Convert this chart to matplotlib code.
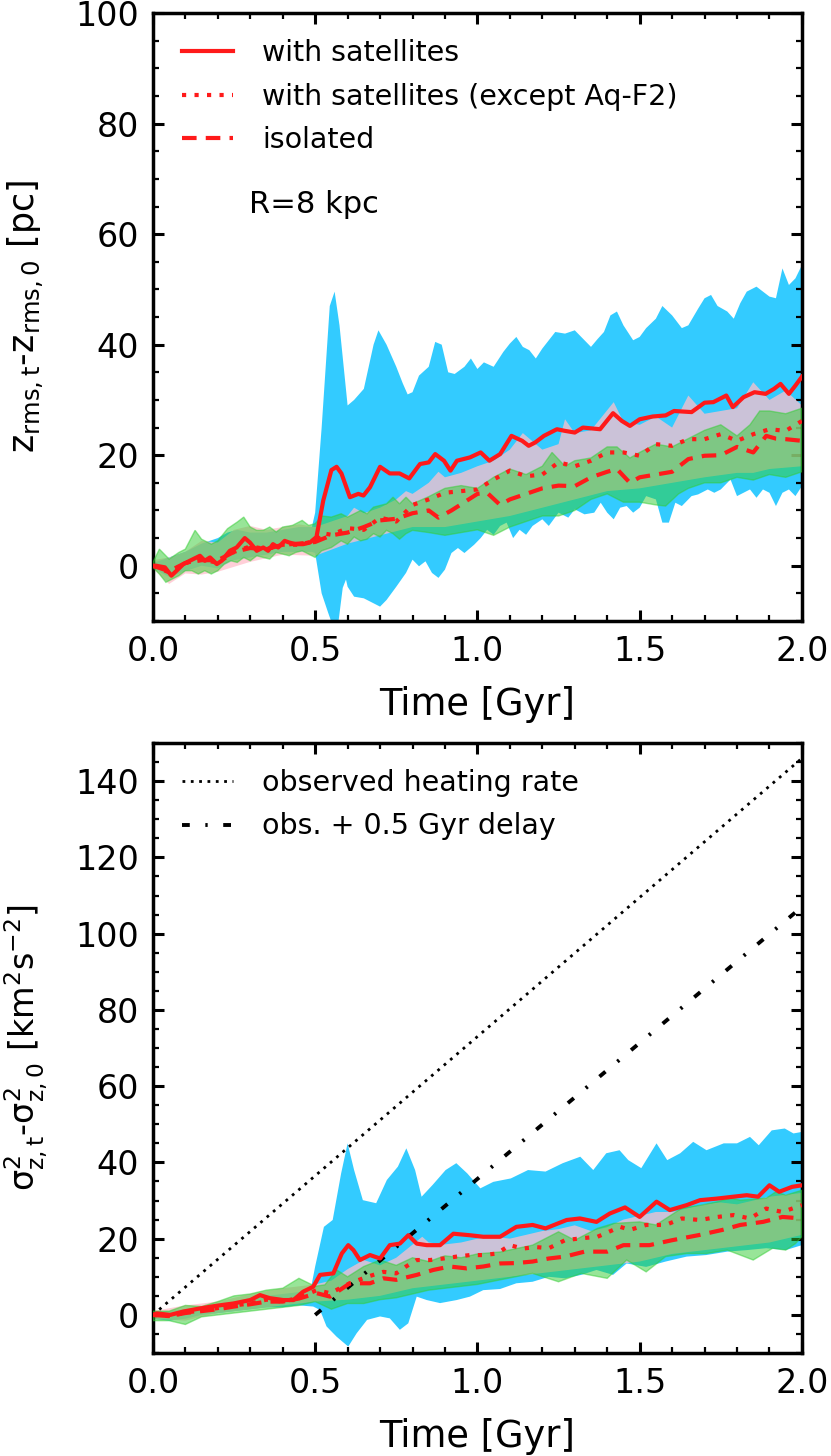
import numpy as np
import matplotlib
matplotlib.use("Agg")
import matplotlib.pyplot as plt
from matplotlib.ticker import MultipleLocator

# ---------------- TOP PANEL DATA (z_rms change, pc) ----------------
top_sat_t = [0, 0.01, 0.037, 0.057, 0.073, 0.094, 0.114, 0.145, 0.16, 0.176, 0.197, 0.212, 0.237, 0.258, 0.283,
             0.299, 0.32, 0.34, 0.355, 0.37, 0.386, 0.406, 0.42, 0.44, 0.463, 0.484, 0.504, 0.525, 0.55, 0.566,
             0.581, 0.607, 0.633, 0.649, 0.669, 0.70, 0.73, 0.76, 0.79, 0.823, 0.85, 0.87, 0.897, 0.917, 0.937,
             0.977, 1.01, 1.037, 1.07, 1.105, 1.138, 1.158, 1.178, 1.205, 1.245, 1.27, 1.3, 1.325, 1.378, 1.418,
             1.445, 1.47, 1.5, 1.54, 1.58, 1.606, 1.66, 1.7, 1.727, 1.767, 1.787, 1.82, 1.854, 1.888, 1.914,
             1.934, 1.96, 1.98, 2.0]
top_sat_v = [0, 0, -0.3, -1.8, -0.9, 0.3, 0.9, 1.8, 0.9, 1.5, 0.3, 0.9, 2.7, 3.3, 5.0,
             4.2, 2.7, 3.3, 2.7, 3.9, 3.3, 4.5, 4.2, 3.9, 3.9, 4.2, 5.2, 11.8, 17.3, 17.9,
             16.7, 12.4, 13.0, 12.7, 14.2, 17.9, 16.7, 16.7, 15.8, 18.4, 18.7, 20.2, 19.0, 17.2, 19.0,
             19.6, 20.5, 19.0, 20.2, 23.5, 22.6, 21.7, 22.3, 23.5, 24.7, 24.4, 24.1, 25.0, 24.7, 27.6,
             26.2, 25.3, 26.5, 27.0, 27.2, 28.0, 27.8, 29.5, 29.6, 30.8, 28.7, 30.5, 31.4, 31.1, 32.0,
             32.9, 31.1, 32.6, 34.2]

top_exc_t = [0, 0.05, 0.1, 0.15, 0.2, 0.25, 0.3, 0.35, 0.4, 0.45, 0.5, 0.52, 0.55, 0.6, 0.65, 0.7, 0.75,
             0.8, 0.85, 0.9, 0.95, 1.0, 1.05, 1.1, 1.15, 1.2, 1.25, 1.3, 1.35, 1.4, 1.45, 1.5, 1.55, 1.6,
             1.65, 1.7, 1.75, 1.8, 1.85, 1.9, 1.95, 2.0]
top_exc_v = [0, -1.2, 0.5, 1.2, 0.5, 2.5, 3.5, 3.0, 3.8, 3.8, 4.5, 5.9, 5.6, 6.8, 6.5, 8.7, 8.0,
             11.0, 12.0, 13.2, 13.5, 13.8, 15.6, 17.2, 16.2, 16.5, 18.7, 18.0, 19.0, 20.5, 20.5, 19.9, 22.0, 21.7,
             22.9, 22.9, 23.8, 22.6, 23.8, 24.7, 24.4, 26.2]

top_iso_t = [0, 0.05, 0.1, 0.15, 0.2, 0.25, 0.3, 0.35, 0.4, 0.45, 0.5, 0.55, 0.6, 0.65, 0.7, 0.75, 0.8,
             0.85, 0.88, 0.92, 0.96, 1.0, 1.03, 1.07, 1.1, 1.15, 1.2, 1.25, 1.3, 1.35, 1.4, 1.43, 1.47, 1.5,
             1.55, 1.6, 1.65, 1.7, 1.75, 1.8, 1.85, 1.89, 1.92, 1.95, 2.0]
top_iso_v = [0, -1.0, 0.5, 1.0, 1.0, 2.5, 3.2, 3.0, 3.8, 4.0, 4.3, 5.5, 6.0, 7.0, 8.2, 8.5, 9.5,
             10.0, 8.7, 10.0, 11.5, 13.0, 13.2, 11.0, 12.0, 13.0, 14.0, 14.5, 14.4, 16.0, 17.0, 17.5, 15.0, 16.0,
             16.5, 17.0, 19.3, 19.9, 20.0, 21.5, 20.5, 23.5, 23.0, 22.9, 22.6]

top_sat_hi_t = [0, 0.05, 0.1, 0.15, 0.2, 0.23, 0.26, 0.3, 0.35, 0.4, 0.45, 0.49, 0.5, 0.52, 0.545, 0.56,
                0.575, 0.6, 0.62, 0.65, 0.68, 0.695, 0.72, 0.75, 0.77, 0.785, 0.8, 0.82, 0.85, 0.87, 0.89,
                0.91, 0.93, 0.96, 0.98, 1.0, 1.02, 1.05, 1.08, 1.1, 1.12, 1.14, 1.16, 1.18, 1.2, 1.24, 1.27,
                1.3, 1.32, 1.35, 1.37, 1.39, 1.41, 1.43, 1.45, 1.48, 1.5, 1.52, 1.55, 1.57, 1.6, 1.63, 1.65,
                1.68, 1.7, 1.72, 1.74, 1.77, 1.79, 1.81, 1.83, 1.86, 1.88, 1.9, 1.92, 1.94, 1.96, 1.98, 2.0]
top_sat_hi_v = [0.5, 1.5, 2.5, 4.0, 5.0, 6.0, 6.5, 6.0, 6.0, 6.5, 7.0, 7.0, 9.6, 25.0, 47.0, 49.6,
                43.5, 29.0, 30.0, 32.0, 40.0, 42.6, 40.0, 36.0, 33.0, 31.0, 31.4, 34.4, 36.0, 40.5, 40.0,
                35.0, 34.7, 36.0, 37.5, 35.6, 36.8, 36.0, 38.7, 40.2, 41.4, 39.6, 39.0, 37.5, 39.3, 42.3, 42.0,
                42.6, 41.4, 39.6, 41.0, 42.3, 45.3, 46.0, 43.5, 40.8, 41.4, 43.0, 44.7, 47.0, 45.3, 43.0, 43.5,
                46.5, 48.4, 49.0, 47.0, 46.0, 44.7, 47.5, 49.6, 50.5, 49.6, 48.7, 48.4, 53.8, 50.8, 52.0, 54.4]
top_sat_lo_t = [0, 0.05, 0.1, 0.15, 0.2, 0.25, 0.3, 0.35, 0.4, 0.45, 0.49, 0.5, 0.52, 0.54, 0.555, 0.57,
                0.585, 0.595, 0.6, 0.62, 0.65, 0.68, 0.7, 0.72, 0.75, 0.78, 0.8, 0.82, 0.84, 0.86, 0.88, 0.9,
                0.92, 0.94, 0.96, 0.99, 1.01, 1.03, 1.05, 1.07, 1.09, 1.11, 1.13, 1.15, 1.17, 1.2, 1.22, 1.25,
                1.28, 1.3, 1.33, 1.36, 1.38, 1.4, 1.42, 1.44, 1.46, 1.48, 1.5, 1.52, 1.55, 1.57, 1.59, 1.61,
                1.63, 1.66, 1.68, 1.71, 1.73, 1.75, 1.78, 1.8, 1.82, 1.84, 1.86, 1.88, 1.9, 1.92, 1.94, 1.96,
                1.98, 2.0]
top_sat_lo_v = [-0.5, -2.0, -1.0, 0.0, -0.5, 1.0, 1.5, 2.0, 2.5, 2.5, 2.5, 2.3, -5.0, -8.5, -11.0, -11.0,
                -4.0, -2.5, -3.8, -5.6, -5.9, -6.8, -7.4, -6.2, -3.8, -1.3, 1.1, -0.1, 0.8, -1.3, -2.2, -0.7,
                2.3, 3.2, 2.3, 3.8, 5.0, 6.5, 5.6, 7.2, 7.8, 5.0, 6.5, 5.6, 7.2, 8.4, 7.2, 9.6,
                8.7, 10.2, 9.3, 9.6, 11.4, 9.6, 8.4, 10.5, 10.8, 9.6, 10.5, 12.6, 12.0, 7.8, 7.8, 11.4,
                10.8, 12.6, 12.9, 13.8, 13.2, 13.8, 15.6, 12.6, 13.2, 13.8, 12.3, 13.8, 13.2, 10.8, 13.2, 13.8,
                12.6, 14.4]

top_exc_hi_t = [0, 0.05, 0.1, 0.15, 0.2, 0.25, 0.3, 0.35, 0.4, 0.45, 0.5, 0.55, 0.6, 0.62, 0.65, 0.7, 0.75,
                0.78, 0.8, 0.85, 0.88, 0.9, 0.95, 1.0, 1.05, 1.1, 1.14, 1.2, 1.25, 1.27, 1.3, 1.35, 1.42,
                1.45, 1.5, 1.55, 1.6, 1.65, 1.7, 1.75, 1.8, 1.85, 1.9, 1.95, 2.0]
top_exc_hi_v = [1.0, 1.5, 2.5, 4.5, 4.2, 6.5, 7.2, 6.5, 7.0, 7.5, 7.0, 8.0, 9.0, 10.5, 9.5, 10.5, 12.0,
                13.5, 13.0, 15.0, 17.0, 16.0, 16.8, 18.0, 19.0, 21.0, 24.0, 21.0, 22.0, 26.5, 24.0, 24.5, 29.6,
                26.0, 25.5, 27.0, 25.0, 30.8, 27.5, 28.0, 28.5, 33.2, 30.0, 31.7, 29.0]
top_exc_lo_t = [0, 0.05, 0.1, 0.15, 0.2, 0.3, 0.4, 0.5, 0.6, 0.7, 0.8, 0.9, 1.0, 1.1, 1.2, 1.3, 1.4, 1.5,
                1.6, 1.7, 1.8, 1.85, 1.9, 2.0]
top_exc_lo_v = [-0.5, -3.3, -1.4, -1.6, -1.1, 0.7, 2.0, 1.8, 4.0, 5.5, 7.0, 7.0, 8.0, 9.0, 10.5, 12.0, 13.5,
                14.0, 15.0, 16.0, 16.8, 16.8, 17.5, 18.0]

top_iso_hi_t = [0, 0.02, 0.05, 0.08, 0.1, 0.13, 0.15, 0.18, 0.2, 0.23, 0.26, 0.28, 0.3, 0.32, 0.34, 0.36,
                0.38, 0.4, 0.43, 0.46, 0.48, 0.5, 0.52, 0.55, 0.58, 0.6, 0.62, 0.64, 0.66, 0.68, 0.7, 0.72,
                0.74, 0.76, 0.78, 0.8, 0.85, 0.9, 0.95, 1.0, 1.05, 1.1, 1.15, 1.2, 1.23, 1.27, 1.3, 1.35, 1.4,
                1.43, 1.47, 1.5, 1.55, 1.6, 1.65, 1.7, 1.75, 1.8, 1.84, 1.87, 1.9, 1.95, 2.0]
top_iso_hi_v = [0.6, 3.0, 1.2, 2.4, 3.0, 6.4, 4.8, 3.9, 4.5, 6.7, 7.9, 8.8, 7.0, 6.4, 6.4, 7.0,
                6.1, 7.0, 7.3, 8.2, 7.3, 7.6, 9.0, 8.8, 9.4, 8.8, 9.4, 10.0, 9.4, 10.6, 10.9, 11.2,
                12.4, 11.2, 12.4, 11.2, 12.5, 14.0, 14.5, 14.0, 16.0, 17.5, 16.5, 18.0, 20.5, 18.0, 19.0, 19.5, 21.5,
                21.5, 19.5, 20.5, 22.0, 21.5, 23.0, 24.5, 25.5, 23.5, 25.5, 28.0, 28.0, 27.5, 28.5]
top_iso_lo_t = [0, 0.02, 0.04, 0.06, 0.08, 0.1, 0.12, 0.14, 0.16, 0.18, 0.2, 0.22, 0.24, 0.26, 0.28, 0.3,
                0.32, 0.34, 0.36, 0.38, 0.4, 0.42, 0.44, 0.46, 0.48, 0.5, 0.52, 0.55, 0.58, 0.6, 0.62, 0.64,
                0.66, 0.68, 0.7, 0.72, 0.74, 0.76, 0.78, 0.8, 0.85, 0.9, 0.95, 1.0, 1.05, 1.1, 1.15, 1.2, 1.25,
                1.3, 1.35, 1.4, 1.45, 1.5, 1.55, 1.58, 1.62, 1.65, 1.7, 1.75, 1.8, 1.85, 1.9, 1.95, 2.0]
top_iso_lo_v = [-0.3, -1.5, -3.0, -2.4, -1.8, -0.9, -0.9, -1.5, -0.9, -1.5, -0.9, 0.3, 0.9, 0.6, 1.5, 0.9,
                1.8, 1.5, 1.2, 2.4, 2.1, 1.8, 2.4, 2.7, 2.1, 1.5, 2.7, 3.3, 4.5, 3.9, 5.2, 4.5,
                4.8, 5.8, 5.2, 6.4, 5.8, 4.8, 5.8, 6.4, 6.0, 5.5, 6.0, 6.5, 5.5, 7.0, 8.0, 9.0, 9.0,
                10.0, 12.0, 13.0, 11.5, 11.5, 11.0, 10.8, 13.0, 14.0, 15.0, 15.0, 16.0, 15.5, 16.5, 16.0, 17.0]

# ---------------- BOTTOM PANEL DATA (sigma_z^2 change, km^2 s^-2) ----------------
bot_sat_t = [0, 0.012, 0.053, 0.094, 0.145, 0.196, 0.248, 0.3, 0.33, 0.36, 0.402, 0.433, 0.463, 0.494,
             0.515, 0.556, 0.582, 0.602, 0.618, 0.638, 0.669, 0.70, 0.73, 0.761, 0.787, 0.813, 0.844, 0.885,
             0.926, 0.977, 1.018, 1.07, 1.12, 1.17, 1.21, 1.275, 1.316, 1.367, 1.408, 1.455, 1.5, 1.552,
             1.593, 1.645, 1.686, 1.737, 1.788, 1.83, 1.865, 1.9, 1.93, 1.97, 2.0]
bot_sat_v = [0, 0.4, 0.0, 0.9, 1.7, 2.4, 3.0, 3.9, 5.2, 4.4, 3.9, 3.9, 6.1, 7.4,
             10.5, 10.9, 16.1, 18.3, 17.0, 14.4, 15.7, 14.8, 18.3, 18.7, 20.9, 18.7, 18.3, 18.3,
             21.3, 20.9, 20.5, 20.5, 23.1, 23.6, 22.7, 24.9, 25.3, 24.4, 26.6, 28.2, 25.7, 29.7,
             27.5, 28.8, 30.1, 30.5, 31.0, 31.4, 31.0, 34.0, 32.3, 33.6, 34.0]

bot_exc_t = [0, 0.05, 0.1, 0.15, 0.2, 0.25, 0.3, 0.35, 0.4, 0.45, 0.505, 0.546, 0.607, 0.66, 0.71, 0.75,
             0.78, 0.813, 0.854, 0.895, 0.936, 0.977, 1.018, 1.06, 1.1, 1.14, 1.18, 1.22, 1.27, 1.32, 1.37,
             1.44, 1.47, 1.52, 1.58, 1.63, 1.686, 1.74, 1.79, 1.84, 1.89, 1.94, 2.0]
bot_exc_v = [0, -0.3, 0.6, 1.2, 1.8, 2.5, 3.0, 4.0, 3.5, 4.5, 6.5, 5.7, 8.3, 10.0, 11.3, 10.9,
             12.7, 14.4, 14.4, 14.8, 15.3, 15.7, 15.7, 16.1, 18.3, 17.4, 17.8, 17.5, 19.6, 20.1, 20.5,
             23.1, 22.3, 23.6, 23.6, 25.3, 24.9, 25.7, 26.2, 25.3, 27.9, 27.0, 28.8]

bot_iso_t = [0, 0.05, 0.1, 0.15, 0.2, 0.25, 0.3, 0.35, 0.4, 0.45, 0.505, 0.546, 0.607, 0.669, 0.71, 0.75,
             0.813, 0.864, 0.915, 0.967, 1.018, 1.07, 1.12, 1.17, 1.22, 1.27, 1.33, 1.4, 1.45, 1.53, 1.6,
             1.686, 1.755, 1.81, 1.88, 1.94, 2.0]
bot_iso_v = [0, -0.3, 0.5, 1.0, 1.5, 2.2, 2.8, 3.5, 3.5, 4.3, 5.7, 4.8, 8.3, 8.3, 9.6, 9.2,
             10.5, 11.8, 12.7, 12.2, 12.7, 13.5, 13.6, 14.0, 14.8, 15.3, 16.6, 16.6, 18.3, 18.3, 19.6,
             21.0, 22.3, 23.6, 24.4, 25.7, 25.3]

bot_sat_hi_t = [0, 0.05, 0.1, 0.15, 0.2, 0.25, 0.3, 0.35, 0.4, 0.45, 0.487, 0.5, 0.527, 0.554, 0.58, 0.6,
                0.62, 0.647, 0.688, 0.721, 0.755, 0.781, 0.808, 0.828, 0.862, 0.902, 0.935, 0.969, 1.009,
                1.049, 1.103, 1.156, 1.21, 1.263, 1.317, 1.357, 1.397, 1.438, 1.465, 1.505, 1.552, 1.585,
                1.625, 1.665, 1.706, 1.759, 1.8, 1.84, 1.867, 1.907, 1.947, 1.974, 2.0]
bot_sat_hi_v = [1.0, 1.0, 1.5, 2.0, 3.0, 3.5, 4.5, 5.0, 5.5, 6.0, 7.0, 12.7, 23.1, 24.9, 37.1, 45.0,
                38.0, 30.1, 29.3, 35.4, 38.9, 43.7, 38.0, 31.0, 34.1, 38.0, 39.8, 37.1, 33.2,
                34.9, 35.8, 38.0, 37.6, 39.8, 41.5, 38.0, 42.4, 43.2, 40.6, 38.5, 45.0, 40.6,
                42.4, 45.4, 43.2, 45.0, 45.0, 46.7, 44.5, 48.4, 48.9, 47.6, 48.0]
bot_sat_lo_t = [0, 0.05, 0.1, 0.15, 0.2, 0.25, 0.3, 0.35, 0.4, 0.45, 0.494, 0.515, 0.535, 0.566, 0.602,
                0.628, 0.66, 0.7, 0.73, 0.761, 0.787, 0.813, 0.844, 0.885, 0.936, 0.977, 1.018, 1.07, 1.12,
                1.17, 1.22, 1.27, 1.32, 1.367, 1.418, 1.46, 1.52, 1.58, 1.645, 1.705, 1.77, 1.83, 1.89, 1.95,
                2.0]
bot_sat_lo_v = [-1.0, -1.5, -1.0, 0.0, 0.5, 1.0, 1.5, 2.0, 2.0, 2.5, 2.2, 1.3, -3.0, -5.7, -8.3,
                -4.8, -1.3, -0.4, -0.9, -3.9, -2.2, 4.8, 3.9, 3.1, 3.9, 4.8, 6.5, 6.8, 8.3,
                8.7, 10.0, 9.6, 10.5, 11.8, 10.5, 13.5, 12.6, 14.0, 15.3, 15.7, 16.6, 17.0, 17.5, 17.0,
                18.3]

bot_exc_hi_t = [0, 0.1, 0.2, 0.3, 0.4, 0.5, 0.55, 0.6, 0.65, 0.7, 0.75, 0.83, 0.85, 0.9, 0.95, 1.0, 1.05,
                1.1, 1.15, 1.2, 1.25, 1.3, 1.35, 1.4, 1.45, 1.5, 1.55, 1.6, 1.65, 1.7, 1.75, 1.8, 1.85, 1.9,
                1.95, 2.0]
bot_exc_hi_v = [1.0, 2.5, 3.5, 5.5, 7.0, 8.0, 9.0, 12.0, 14.4, 13.0, 15.0, 20.5, 19.0, 18.5, 19.0, 20.0, 20.5,
                20.0, 21.0, 22.0, 22.5, 23.5, 22.0, 23.0, 25.0, 26.0, 27.0, 27.0, 28.0, 29.0, 29.5, 29.0, 30.0, 31.0,
                31.5, 32.0]
bot_exc_lo_t = [0, 0.1, 0.2, 0.3, 0.4, 0.5, 0.6, 0.7, 0.8, 0.9, 1.0, 1.1, 1.2, 1.3, 1.4, 1.5, 1.6, 1.7,
                1.8, 1.9, 2.0]
bot_exc_lo_v = [-1.0, -1.5, 0.5, 1.5, 2.5, 3.5, 4.0, 5.0, 7.0, 8.0, 9.0, 10.0, 11.0, 12.0, 13.0, 14.0, 16.0,
                17.0, 18.0, 19.0, 21.0]

bot_iso_hi_t = [0, 0.05, 0.1, 0.15, 0.2, 0.25, 0.3, 0.35, 0.4, 0.45, 0.5, 0.53, 0.566, 0.6, 0.65, 0.7,
                0.75, 0.8, 0.85, 0.9, 0.95, 1.0, 1.07, 1.12, 1.17, 1.25, 1.3, 1.37, 1.42, 1.5, 1.55, 1.63,
                1.69, 1.74, 1.78, 1.81, 1.89, 1.92, 1.95, 2.0]
bot_iso_hi_v = [1.0, 1.0, 2.5, 2.2, 3.5, 5.0, 5.5, 6.5, 7.0, 9.6, 7.5, 7.9, 11.8, 10.0, 12.7, 14.4,
                13.0, 15.0, 14.0, 15.5, 15.0, 16.0, 16.5, 17.4, 18.3, 21.8, 19.6, 22.7, 24.0, 24.4, 23.6, 28.0,
                28.8, 29.7, 30.6, 30.1, 30.6, 32.3, 31.4, 32.7]
bot_iso_lo_t = [0, 0.05, 0.1, 0.15, 0.2, 0.25, 0.3, 0.35, 0.4, 0.45, 0.5, 0.55, 0.6, 0.65, 0.7, 0.75,
                0.8, 0.85, 0.9, 0.95, 1.0, 1.07, 1.17, 1.25, 1.32, 1.4, 1.46, 1.52, 1.58, 1.645, 1.705,
                1.77, 1.85, 1.91, 1.95, 1.98, 2.0]
bot_iso_lo_v = [-1.5, -1.5, -2.5, -0.5, 0.0, 0.5, 1.0, 1.5, 2.0, 2.5, 3.5, 1.5, 3.0, 3.0, 4.0, 4.5,
                5.5, 6.5, 7.0, 7.5, 8.0, 9.2, 10.9, 8.7, 10.9, 9.6, 14.4, 11.3, 15.3, 16.1, 16.1,
                17.0, 14.4, 17.5, 17.0, 18.7, 20.5]

obs_t = [0.0, 2.0]
obs_v = [0.0, 146.0]
delay_t = [0.5, 2.0]
delay_v = [0.0, 107.0]

labels_top = ["with satellites", "with satellites (except Aq-F2)", "isolated"]
labels_bot = ["observed heating rate", "obs. + 0.5 Gyr delay"]

# ---------------- STYLE ----------------
plt.rcParams['font.family'] = ['DejaVu Sans']
plt.rcParams['mathtext.fontset'] = 'dejavusans'

C_BLUE = 'deepskyblue'
C_PINK = 'pink'
C_GREEN = 'limegreen'
C_RED = '#ff1a1a'
LW = 3.0
LEG_FS = 20.5

fig = plt.figure(figsize=(8.31, 14.56), dpi=100)
ax1 = fig.add_axes([0.184, 0.5735, 0.781, 0.4175])
ax2 = fig.add_axes([0.184, 0.0707, 0.781, 0.419])


def band(ax, t_hi, v_hi, t_lo, v_lo, color, alpha, edge=None, z=1):
    xs = np.concatenate([np.asarray(t_hi), np.asarray(t_lo)[::-1]])
    ys = np.concatenate([np.asarray(v_hi), np.asarray(v_lo)[::-1]])
    ax.fill(xs, ys, facecolor=color, alpha=alpha, edgecolor=edge if edge else 'none',
            linewidth=1.0 if edge else 0, zorder=z)


def style(ax, ylim, ymaj, ymin):
    ax.set_xlim(0, 2.0)
    ax.set_ylim(*ylim)
    ax.xaxis.set_major_locator(MultipleLocator(0.5))
    ax.xaxis.set_minor_locator(MultipleLocator(0.1))
    ax.yaxis.set_major_locator(MultipleLocator(ymaj))
    ax.yaxis.set_minor_locator(MultipleLocator(ymin))
    ax.tick_params(which='both', direction='in', top=True, right=True, labelsize=24, pad=10)
    ax.tick_params(which='major', length=8, width=2.2)
    ax.tick_params(which='minor', length=4, width=1.6)
    for s in ax.spines.values():
        s.set_linewidth(2.5)
    ax.set_xlabel('Time [Gyr]', fontsize=26.5, labelpad=13)


# ---- top panel ----
band(ax1, top_sat_hi_t, top_sat_hi_v, top_sat_lo_t, top_sat_lo_v, C_BLUE, 0.8, z=1)
band(ax1, top_exc_hi_t, top_exc_hi_v, top_exc_lo_t, top_exc_lo_v, C_PINK, 0.75, z=2)
band(ax1, top_iso_hi_t, top_iso_hi_v, top_iso_lo_t, top_iso_lo_v, C_GREEN, 0.5, edge=C_GREEN, z=3)
ax1.plot(top_sat_t, top_sat_v, color=C_RED, lw=LW, ls='-', zorder=6, label=labels_top[0])
ax1.plot(top_exc_t, top_exc_v, color=C_RED, lw=LW, ls=(0, (1, 2)), zorder=6, label=labels_top[1])
ax1.plot(top_iso_t, top_iso_v, color=C_RED, lw=LW, ls=(0, (3.5, 2.2)), zorder=6, label=labels_top[2])
style(ax1, (-10, 100), 20, 5)
ax1.set_ylabel(r'$\mathregular{z_{rms,t}}$-$\mathregular{z_{rms,0}}$ [pc]', fontsize=25)
ax1.yaxis.set_label_coords(-0.165, 0.5)
ax1.legend(loc='upper left', frameon=False, fontsize=LEG_FS, handlelength=1.8, handletextpad=1.0,
           labelspacing=0.55, borderaxespad=0.4, bbox_to_anchor=(0.01, 0.995))
ax1.text(0.148, 0.685, 'R=8 kpc', transform=ax1.transAxes, fontsize=22, va='center', ha='left')

# ---- bottom panel ----
band(ax2, bot_sat_hi_t, bot_sat_hi_v, bot_sat_lo_t, bot_sat_lo_v, C_BLUE, 0.8, z=1)
band(ax2, bot_exc_hi_t, bot_exc_hi_v, bot_exc_lo_t, bot_exc_lo_v, C_PINK, 0.75, z=2)
band(ax2, bot_iso_hi_t, bot_iso_hi_v, bot_iso_lo_t, bot_iso_lo_v, C_GREEN, 0.5, edge=C_GREEN, z=3)
l1, = ax2.plot(obs_t, obs_v, color='black', lw=2.0, ls=(0, (1, 2)), zorder=5)
l2, = ax2.plot(delay_t, delay_v, color='black', lw=2.8, ls=(0, (2, 4, 0.6, 4)), zorder=5)
ax2.plot(bot_sat_t, bot_sat_v, color=C_RED, lw=LW, ls='-', zorder=6)
ax2.plot(bot_exc_t, bot_exc_v, color=C_RED, lw=LW, ls=(0, (1, 2)), zorder=6)
ax2.plot(bot_iso_t, bot_iso_v, color=C_RED, lw=LW, ls=(0, (3.5, 2.2)), zorder=6)
style(ax2, (-10, 150), 20, 5)
ax2.set_ylabel(r'$\mathregular{\sigma^2_{z,t}}$-$\mathregular{\sigma^2_{z,0}}$ [km$\mathregular{^2}$s$\mathregular{^{-2}}$]',
               fontsize=24)
ax2.yaxis.set_label_coords(-0.158, 0.5)
ax2.legend([l1, l2], labels_bot, loc='upper left', frameon=False, fontsize=LEG_FS, handlelength=1.8,
           handletextpad=1.0, labelspacing=0.55, borderaxespad=0.4, bbox_to_anchor=(0.01, 0.995))

fig.savefig('out.png', dpi=100)
